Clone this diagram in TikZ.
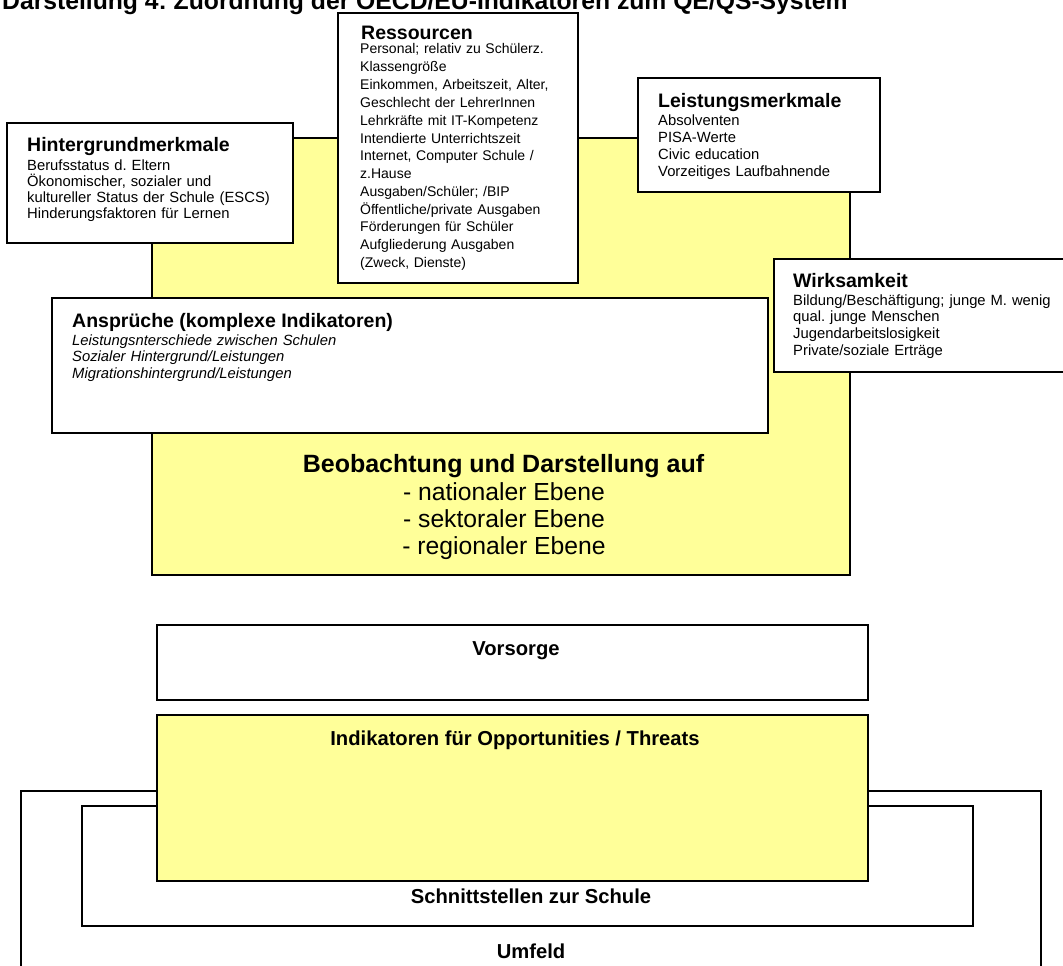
\documentclass[tikz,border=0pt]{standalone}
\usepackage{fontspec}
\setmainfont{Liberation Sans}
\frenchspacing
\definecolor{paleyellow}{RGB}{255,255,153}
\tikzset{
  frame/.style={draw=black, line width=1.5pt, fill=white},
  yframe/.style={draw=black, line width=1.5pt, fill=paleyellow},
  head/.style={anchor=base west, inner sep=0pt, font=\fontsize{19.5}{22}\selectfont\bfseries},
  body/.style={anchor=base west, inner sep=0pt, align=left, font=\fontsize{14.8}{16.4}\selectfont},
  label/.style={anchor=base, inner sep=0pt, font=\fontsize{20.2}{23}\selectfont\bfseries},
  levels/.style={anchor=base, inner sep=0pt, font=\fontsize{24.7}{28}\selectfont},
}
\begin{document}
\begin{tikzpicture}[x=1pt, y=-1pt]
\useasboundingbox (0,0) rectangle (1063,966);
\clip (0,0) rectangle (1063,966);

% heading line (partly cut by the top edge)
\node[anchor=base west, inner sep=0pt, font=\fontsize{24.7}{28}\selectfont\bfseries] (title) at (2,10)
  {Darstellung 4: Zuordnung der OECD/EU-Indikatoren zum QE/QS-System};

% central yellow field
\path[yframe] (152,138) rectangle (850,575);
\node[inner sep=0pt] (core) at (501,356) {};

% resources
\path[frame] (338,13) rectangle (578,283);
\node[head] (resHead) at (361,40) {Ressourcen};
\node[body, text width=217pt, font=\fontsize{14}{17.8}\selectfont] (resBody) at (360,54) {%
Personal; relativ zu Schülerz.\\
Klassengröße\\
\makebox[215pt][s]{Einkommen, Arbeitszeit, Alter,}\\
Geschlecht der LehrerInnen\\
Lehrkräfte mit IT-Kompetenz\\
Intendierte Unterrichtszeit\\
\makebox[198pt][s]{Internet, Computer Schule /}\\
z.Hause\\
Ausgaben/Schüler; /BIP\\
Öffentliche/private Ausgaben\\
Förderungen für Schüler\\
Aufgliederung Ausgaben\\
(Zweck, Dienste)};

% background features
\path[frame] (7,123) rectangle (293,243);
\node[head] (bgHead) at (27,151) {Hintergrundmerkmale};
\node[body, text width=262pt, font=\fontsize{14.8}{16}\selectfont] (bgBody) at (27,170) {%
Berufsstatus d. Eltern\\
Ökonomischer, sozialer und\\
kultureller Status der Schule (ESCS)\\
Hinderungsfaktoren für Lernen};

% performance features
\path[frame] (638,78) rectangle (880,192);
\node[head] (perfHead) at (658,107) {Leistungsmerkmale};
\node[body, text width=215pt, font=\fontsize{14.8}{17}\selectfont] (perfBody) at (658,125) {%
Absolventen\\
PISA-Werte\\
Civic education\\
Vorzeitiges Laufbahnende};

% effectiveness
\path[frame] (774,259) rectangle (1075,372);
\node[head] (effHead) at (793,287) {Wirksamkeit};
\node[body, text width=268pt, font=\fontsize{14.8}{16.7}\selectfont] (effBody) at (793,305) {%
Bildung/Beschäftigung; junge M. wenig\\
qual. junge Menschen\\
Jugendarbeitslosigkeit\\
Private/soziale Erträge};

% demands (complex indicators)
\path[frame] (52,298) rectangle (768,433);
\node[head] (demHead) at (72,327) {Ansprüche (komplexe Indikatoren)};
\node[body, text width=600pt, font=\fontsize{14.8}{16.5}\selectfont\itshape] (demBody) at (72,345) {%
Leistungsnterschiede zwischen Schulen\\
Sozialer Hintergrund/Leistungen\\
Migrationshintergrund/Leistungen};

% observation levels
\node[anchor=base, inner sep=0pt, font=\fontsize{25}{28}\selectfont\bfseries] (obsHead) at (503.5,472)
  {Beobachtung und Darstellung auf};
\node[levels] (obsNat) at (504,500) {- nationaler Ebene};
\node[levels] (obsSek) at (504,527) {- sektoraler Ebene};
\node[levels] (obsReg) at (504,554) {- regionaler Ebene};

% surroundings and interfaces
\path[frame] (21,791) rectangle (1041,1000);
\node[label] (envLabel) at (531,958) {Umfeld};
\path[frame] (82,806) rectangle (973,926);
\node[label] (ifLabel) at (531,903) {Schnittstellen zur Schule};

% opportunities / threats
\path[yframe] (157,715) rectangle (868,881);
\node[label] (otLabel) at (515,745) {Indikatoren für Opportunities / Threats};

% provision
\path[frame] (157,625) rectangle (868,700);
\node[label] (provLabel) at (516,655) {Vorsorge};
\end{tikzpicture}
\end{document}
